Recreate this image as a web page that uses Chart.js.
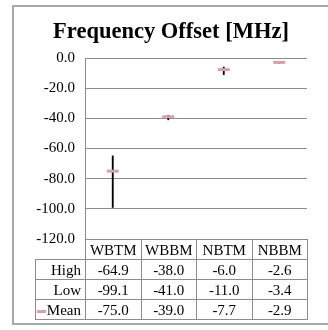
<!DOCTYPE html>
<html>
<head>
  <title>Frequency Offset [MHz]</title>
  <script src="https://cdn.jsdelivr.net/npm/chart.js"></script>
  <style>
    body {
      margin: 0;
      background: white;
      font-family: 'Liberation Serif', 'Times New Roman', serif;
    }

    #frame {
      position: absolute;
      left: 12px;
      top: 5px;
      width: 330px;
      height: 320px;
      border: 2px solid #a9a9a9;
      box-sizing: border-box;
    }

    #chart {
      position: absolute;
      left: 26px;
      top: 7px;
    }

    #dataTable {
      position: absolute;
      border-collapse: collapse;
      font-size: 15px;
      color: #000;
      table-layout: fixed;
    }

    #dataTable td {
      border: 1px solid #8c8c8c;
      height: 19px;
      padding: 0;
      text-align: center;
      line-height: 18px;
    }

    #dataTable td.rowHead {
      text-align: right;
      padding-right: 4px;
    }

    #dataTable td.corner {
      border: none;
    }

    .key {
      display: inline-block;
      width: 9px;
      height: 3px;
      background: #d9a0a8;
      vertical-align: middle;
      margin-right: 1px;
    }
  </style>
</head>
<body>

  <div id="frame"></div>
  <canvas id="chart" width="290" height="316"></canvas>
  <table id="dataTable"></table>

  <script>
    const categories = ['WBTM', 'WBBM', 'NBTM', 'NBBM'];
    const highs = [-64.9, -38.0, -6.0, -2.6];
    const lows = [-99.1, -41.0, -11.0, -3.4];
    const means = [-75.0, -39.0, -7.7, -2.9];
    const yTicks = [0, -20, -40, -60, -80, -100, -120];

    const meanColor = '#d9a0a8';
    const gridColor = '#8c8c8c';
    const serif = "'Liberation Serif', 'Times New Roman', serif";

    const ctx = document.getElementById('chart').getContext('2d');
    const chart = new Chart(ctx, {
      type: 'bar',
      data: {
        labels: categories,
        datasets: [{
          label: 'High-Low',
          data: lows.map((l, i) => [l, highs[i]]),
          backgroundColor: '#000',
          borderWidth: 0,
          barThickness: 1.2,
          order: 2
        }, {
          type: 'line',
          label: 'Mean',
          data: means,
          showLine: false,
          pointStyle: 'line',
          pointRadius: 6,
          pointBorderWidth: 3,
          borderColor: meanColor,
          backgroundColor: meanColor,
          order: 1
        }]
      },
      options: {
        responsive: false,
        animation: false,
        layout: {
          padding: { left: 0, right: 0, top: 0, bottom: 84 }
        },
        scales: {
          x: {
            display: false,
            offset: true
          },
          y: {
            min: -120,
            max: 0,
            afterBuildTicks: scale => {
              scale.ticks = yTicks.map(v => ({ value: v }));
            },
            afterFit: scale => {
              scale.width = 59;
            },
            ticks: {
              callback: v => v.toFixed(1),
              color: '#000',
              padding: 10,
              font: { family: serif, size: 15 }
            },
            grid: {
              color: gridColor,
              lineWidth: 1,
              drawTicks: false
            },
            border: {
              color: gridColor,
              width: 1
            }
          }
        },
        plugins: {
          legend: { display: false },
          tooltip: { enabled: false },
          title: {
            display: true,
            text: 'Frequency Offset [MHz]',
            color: '#000',
            font: { family: serif, size: 22.5, weight: 'bold' },
            padding: { top: 12, bottom: 12 }
          }
        }
      }
    });

    // data table under the plot, columns follow the x scale
    function buildTable() {
      const area = chart.chartArea;
      const canvas = document.getElementById('chart');
      const colW = (area.right - area.left) / categories.length;
      const headW = 50;
      const table = document.getElementById('dataTable');
      table.style.left = (canvas.offsetLeft + area.left - headW) + 'px';
      table.style.top = (canvas.offsetTop + area.bottom) + 'px';
      table.style.width = (headW + colW * categories.length) + 'px';

      let html = '<colgroup><col style="width:' + headW + 'px">';
      categories.forEach(() => { html += '<col style="width:' + colW + 'px">'; });
      html += '</colgroup>';
      html += '<tr><td class="corner"></td>' + categories.map(c => '<td>' + c + '</td>').join('') + '</tr>';
      const rows = [
        ['High', highs],
        ['Low', lows],
        ['<span class="key"></span>Mean', means]
      ];
      rows.forEach(([name, vals]) => {
        html += '<tr><td class="rowHead">' + name + '</td>' + vals.map(v => '<td>' + v.toFixed(1) + '</td>').join('') + '</tr>';
      });
      table.innerHTML = html;
    }

    buildTable();
  </script>

</body>
</html>
